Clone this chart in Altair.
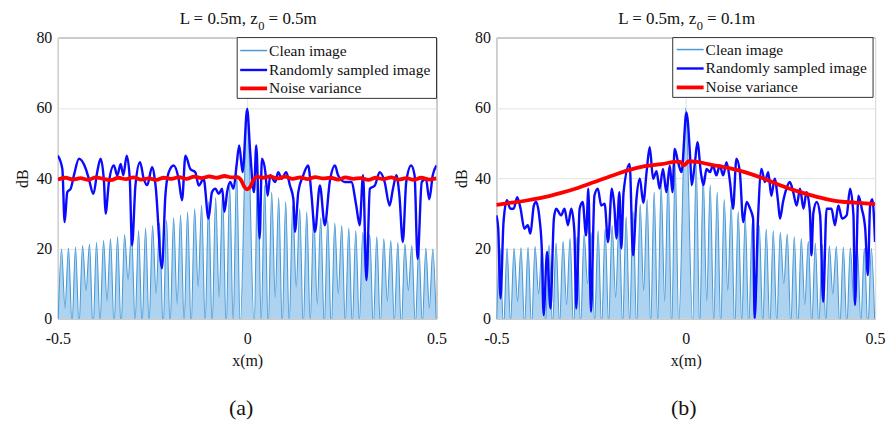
import altair as alt
import pandas as pd

SERIES = ["Clean image", "Randomly sampled image", "Noise variance"]
COLOURS = ["#4a9ad6", "#0a0aff", "#ff0000"]
WIDTHS = [1.1, 2.4, 3.8]
CLEAN_FILL = "#aed3f1"

# Clean image: sidelobe spacing, main-lobe peak, sidelobe peaks (centre outward)
# and the depth of each null (centre outward), both halves mirror each other.
LOBE_STEP = 0.0185
MAIN_PEAK = 60.0
PEAKS_A = [42.0, 38.0, 36.0, 34.5, 33.3, 32.3, 31.3, 30.4, 29.5, 28.7, 28.0, 27.2, 26.5,
           25.8, 25.1, 24.5, 23.9, 23.3, 22.7, 22.2, 21.7, 21.2, 20.8, 20.4, 20.1, 19.8]
PEAKS_B = [44.0, 40.5, 38.0, 36.0, 34.0, 32.5, 30.5, 29.0, 27.5, 26.5, 25.5, 25.0, 24.5,
           24.0, 23.3, 22.8, 22.0, 21.5, 21.0, 20.7, 20.5, 20.3, 20.2, 20.0, 20.0, 20.0]
NULLS_A = [-2.0, -1.0, -3.0, 6.0, -2.0, -1.5, 9.0, -2.5, -1.0, 4.0, -2.0, -3.0, 7.0, -1.5,
           -2.0, -1.0, 11.0, -2.5, -2.0, 5.0, -1.0, -3.0, 8.0, -2.0, -1.5, 3.0, -2.0]
NULLS_B = [-1.5, -2.5, 5.0, -1.0, -2.0, 8.0, -3.0, -1.0, -2.0, 6.0, -1.5, -2.5, -1.0, 10.0,
           -2.0, -3.0, 4.0, -1.5, -2.0, -1.0, 7.0, -2.5, -2.0, 5.0, -1.0, -3.0, -2.0]

# Randomly sampled image, (x [m], dB)
RAND_A = [(-0.500, 46.4), (-0.488, 42.6), (-0.482, 27.5), (-0.475, 36.0), (-0.466, 37.0),
          (-0.457, 41.0), (-0.444, 45.5), (-0.426, 42.6), (-0.418, 39.8), (-0.406, 35.5),
          (-0.396, 41.7), (-0.387, 45.5), (-0.378, 38.9), (-0.374, 29.9), (-0.365, 38.9),
          (-0.352, 43.6), (-0.343, 40.8), (-0.334, 44.0), (-0.327, 40.8), (-0.318, 46.4),
          (-0.310, 39.8), (-0.304, 20.9), (-0.295, 37.9), (-0.283, 44.5), (-0.273, 39.8),
          (-0.264, 38.0), (-0.251, 43.1), (-0.242, 38.0), (-0.225, 14.3), (-0.216, 35.0),
          (-0.207, 41.7), (-0.194, 43.6), (-0.181, 39.8), (-0.172, 33.7), (-0.163, 46.4),
          (-0.150, 42.6), (-0.137, 41.7), (-0.128, 37.9), (-0.115, 39.8), (-0.102, 28.5),
          (-0.093, 36.0), (-0.084, 37.0), (-0.075, 35.5), (-0.066, 37.0), (-0.060, 30.4),
          (-0.053, 36.0), (-0.045, 38.9), (-0.036, 37.0), (-0.028, 43.6), (-0.021, 49.3),
          (-0.012, 41.7), (0.000, 59.7), (0.008, 47.4), (0.018, 36.0), (0.024, 49.3),
          (0.033, 22.8), (0.039, 45.5), (0.048, 41.7), (0.054, 35.0), (0.061, 40.8),
          (0.074, 38.9), (0.082, 41.7), (0.091, 39.8), (0.103, 41.7), (0.113, 37.9),
          (0.122, 34.0), (0.126, 24.7), (0.135, 36.0), (0.148, 40.8), (0.161, 43.6),
          (0.170, 35.0), (0.179, 24.7), (0.192, 37.9), (0.205, 26.6), (0.218, 38.9),
          (0.232, 43.6), (0.240, 40.8), (0.258, 38.9), (0.275, 38.9), (0.288, 32.2),
          (0.297, 26.6), (0.306, 40.8), (0.315, 11.0), (0.324, 37.0), (0.337, 37.9),
          (0.350, 41.7), (0.363, 38.9), (0.376, 32.2), (0.385, 37.0), (0.394, 40.8),
          (0.402, 35.0), (0.411, 21.8), (0.420, 38.9), (0.433, 43.6), (0.442, 40.8),
          (0.450, 17.0), (0.461, 38.9), (0.472, 39.8), (0.481, 34.0), (0.490, 40.8),
          (0.500, 43.6)]

RAND_B = [(-0.500, 29.4), (-0.495, 25.6), (-0.489, 5.8), (-0.481, 27.5), (-0.472, 33.7),
          (-0.463, 31.3), (-0.454, 31.3), (-0.445, 34.6), (-0.436, 31.3), (-0.426, 25.6),
          (-0.417, 26.6), (-0.410, 24.2), (-0.401, 32.2), (-0.395, 33.2), (-0.386, 28.5),
          (-0.380, 20.0), (-0.375, 1.0), (-0.366, 19.0), (-0.357, 2.9), (-0.348, 28.5),
          (-0.342, 31.3), (-0.329, 29.4), (-0.320, 31.3), (-0.311, 26.6), (-0.302, 31.3),
          (-0.294, 25.0), (-0.289, 2.9), (-0.280, 31.3), (-0.272, 33.2), (-0.263, 23.7),
          (-0.257, 37.0), (-0.250, 2.0), (-0.241, 35.0), (-0.232, 37.0), (-0.223, 32.2),
          (-0.214, 32.7), (-0.205, 21.8), (-0.195, 37.0), (-0.188, 31.3), (-0.183, 22.8),
          (-0.175, 36.0), (-0.170, 20.0), (-0.164, 36.0), (-0.148, 44.0), (-0.139, 18.0),
          (-0.130, 34.0), (-0.121, 39.8), (-0.112, 33.0), (-0.103, 42.0), (-0.095, 48.8),
          (-0.086, 39.8), (-0.077, 42.0), (-0.069, 37.0), (-0.060, 42.6), (-0.051, 36.0),
          (-0.042, 43.6), (-0.035, 36.0), (-0.029, 48.3), (-0.020, 44.5), (-0.011, 41.7),
          (0.002, 58.7), (0.012, 45.5), (0.016, 38.0), (0.024, 44.0), (0.031, 50.2),
          (0.040, 41.7), (0.047, 38.0), (0.055, 42.6), (0.064, 41.7), (0.072, 43.6),
          (0.081, 40.8), (0.090, 43.6), (0.099, 40.8), (0.108, 44.5), (0.117, 38.9),
          (0.125, 31.3), (0.134, 45.5), (0.143, 41.7), (0.152, 27.5), (0.161, 33.2),
          (0.170, 31.3), (0.178, 28.5), (0.182, 0.0), (0.191, 28.5), (0.200, 42.6),
          (0.209, 38.9), (0.218, 41.7), (0.226, 35.0), (0.235, 39.8), (0.244, 33.2),
          (0.249, 28.5), (0.257, 33.2), (0.266, 37.0), (0.275, 38.9), (0.284, 36.0),
          (0.293, 32.2), (0.302, 37.0), (0.311, 31.3), (0.319, 36.0), (0.328, 30.4),
          (0.332, 18.0), (0.337, 30.0), (0.346, 33.2), (0.355, 29.4), (0.363, 4.8),
          (0.372, 31.3), (0.385, 31.3), (0.394, 26.6), (0.403, 32.2), (0.413, 28.5),
          (0.425, 29.4), (0.434, 37.0), (0.443, 29.4), (0.447, 3.9), (0.456, 35.0),
          (0.465, 31.3), (0.474, 25.6), (0.481, 12.4), (0.487, 32.2), (0.493, 34.0),
          (0.500, 21.8)]

# Noise variance, (x [m], dB)
NOISE_A = [(-0.50, 39.6), (-0.48, 40.1), (-0.46, 39.6), (-0.44, 40.0), (-0.42, 39.5),
           (-0.40, 40.2), (-0.38, 39.8), (-0.36, 39.4), (-0.34, 40.1), (-0.32, 39.7),
           (-0.30, 40.2), (-0.28, 39.6), (-0.26, 39.9), (-0.24, 39.5), (-0.22, 40.1),
           (-0.20, 39.8), (-0.18, 40.3), (-0.16, 39.8), (-0.14, 40.4), (-0.12, 40.0),
           (-0.10, 40.5), (-0.08, 40.1), (-0.06, 40.6), (-0.04, 40.2), (-0.026, 40.3),
           (-0.016, 39.4), (-0.008, 37.6), (0.000, 36.8), (0.008, 37.5), (0.016, 39.3),
           (0.026, 40.4), (0.04, 40.1), (0.06, 40.5), (0.08, 39.9), (0.10, 40.4),
           (0.12, 39.8), (0.14, 40.2), (0.16, 39.7), (0.18, 40.3), (0.20, 39.9),
           (0.22, 40.1), (0.24, 39.6), (0.26, 40.2), (0.28, 39.8), (0.30, 40.0),
           (0.32, 39.5), (0.34, 40.1), (0.36, 39.7), (0.38, 40.2), (0.40, 39.6),
           (0.42, 40.0), (0.44, 39.5), (0.46, 40.1), (0.48, 39.6), (0.50, 39.9)]
NOISE_B = [(-0.500, 32.4), (-0.460, 33.0), (-0.417, 33.7), (-0.373, 34.6), (-0.329, 35.8),
           (-0.285, 37.2), (-0.241, 38.9), (-0.197, 40.6), (-0.153, 42.2), (-0.108, 43.4),
           (-0.064, 44.0), (-0.020, 44.7), (-0.012, 44.5), (-0.006, 43.6), (0.000, 44.0),
           (0.008, 44.8), (0.030, 44.6), (0.068, 43.8), (0.112, 42.9), (0.156, 41.7),
           (0.200, 40.1), (0.244, 38.2), (0.288, 36.5), (0.332, 35.1), (0.377, 33.9),
           (0.420, 33.2), (0.465, 32.9), (0.500, 32.6)]

X_TICKS = [-0.5, 0, 0.5]
Y_TICKS = [0, 20, 40, 60, 80]
TITLE_HEAD = "L = 0.5m, z"
TITLE_SUB = "0"
TAILS = ["= 0.5m", "= 0.1m"]
TAGS = ["(a)", "(b)"]

W, H = 380, 282
SERIF = "Times New Roman, Liberation Serif, DejaVu Serif, serif"

# Legend box placement inside each plot (pixels from the plot's top-left corner)
LEGEND_BOX = [(180, 0, 380, 61), (177, 0, 378, 60)]
LEGEND_ROWS = [(13, 32.5, 51), (12, 31, 50)]
LEGEND_SWATCH = [(183, 210), (181, 208)]


def clean_frame(peaks, nulls):
    rows = [(0.0, MAIN_PEAK)]
    for side in (-1, 1):
        for k, depth in enumerate(nulls, start=1):
            rows.append((side * k * LOBE_STEP, depth))
            if k <= len(peaks):
                rows.append((side * (k + 0.5) * LOBE_STEP, peaks[k - 1]))
    return pd.DataFrame(rows, columns=["x", "y"]).sort_values("x")


def pair_frame(pairs):
    return pd.DataFrame(pairs, columns=["x", "y"])


x_enc = alt.X(
    "x:Q", scale=alt.Scale(domain=[-0.5, 0.5], nice=False, zero=False),
    axis=alt.Axis(values=X_TICKS, title="x(m)", labelFont=SERIF, titleFont=SERIF,
                  labelFlush=False,
                  labelExpr="replace(format(datum.value, '.1~f'), '\u2212', '-')"),
)
y_enc = alt.Y(
    "y:Q", scale=alt.Scale(domain=[0, 80], nice=False),
    axis=alt.Axis(values=Y_TICKS, title="dB", labelFont=SERIF, titleFont=SERIF),
)


def text_at(text, x, y, size, align, baseline="alphabetic"):
    return alt.Chart(pd.DataFrame({"t": [text]})).mark_text(
        font=SERIF, fontSize=size, align=align, baseline=baseline, color="#111111"
    ).encode(text="t:N", x=alt.value(x), y=alt.value(y))


def legend_layers(box, rows, swatch):
    x0, y0, x1, y1 = box
    one = pd.DataFrame({"k": [0]})
    layers = [alt.Chart(one).mark_rect(fill="white", stroke="#333333", strokeWidth=1).encode(
        x=alt.value(x0), x2=alt.value(x1), y=alt.value(y0), y2=alt.value(y1))]
    for name, colour, width, ry in zip(SERIES, COLOURS, WIDTHS, rows):
        layers.append(alt.Chart(one).mark_rule(color=colour, strokeWidth=max(width, 1.5)).encode(
            x=alt.value(swatch[0]), x2=alt.value(swatch[1]), y=alt.value(ry)))
        layers.append(text_at(name, swatch[1] + 2, ry, 15.5, "left", "middle"))
    return layers


def panel(idx, peaks, nulls, rand, noise, tag_x):
    clean_df = clean_frame(peaks, nulls)
    clean_fill = alt.Chart(clean_df).mark_area(
        clip=True, interpolate="monotone", color=CLEAN_FILL).encode(x=x_enc, y=y_enc)
    clean = alt.Chart(clean_df).mark_line(
        clip=True, interpolate="monotone", color=COLOURS[0], strokeWidth=WIDTHS[0]
    ).encode(x=x_enc, y=y_enc)
    sampled = alt.Chart(pair_frame(rand)).mark_line(
        clip=True, interpolate="monotone", color=COLOURS[1], strokeWidth=WIDTHS[1]
    ).encode(x=x_enc, y=y_enc)
    var = alt.Chart(pair_frame(noise)).mark_line(
        clip=True, interpolate="monotone", color=COLOURS[2], strokeWidth=WIDTHS[2]
    ).encode(x=x_enc, y=y_enc)

    head = text_at(TITLE_HEAD, W / 2 + 10.6, -14, 17, "right")
    sub = text_at(TITLE_SUB, W / 2 + 11.2, -8, 12.5, "left")
    rest = text_at(TAILS[idx], W / 2 + 21.5, -14, 17, "left")
    caption = text_at(TAGS[idx], tag_x, 379, 22, "center")
    layers = [clean_fill, clean, sampled, var]
    layers += legend_layers(LEGEND_BOX[idx], LEGEND_ROWS[idx], LEGEND_SWATCH[idx])
    layers += [head, sub, rest, caption]
    return alt.layer(*layers).properties(width=W, height=H)


left = panel(0, PEAKS_A, NULLS_A, RAND_A, NOISE_A, 184)
right = panel(1, PEAKS_B, NULLS_B, RAND_B, NOISE_B, 188)

chart = alt.hconcat(left, right, spacing=60, bounds="flush").properties(
    padding={"left": 14, "top": 8, "right": 4, "bottom": 5}
).configure(
    font=SERIF
).configure_view(
    stroke="#6a6a6a", strokeWidth=1
).configure_axis(
    labelFont=SERIF, titleFont=SERIF, labelFontSize=16, titleFontSize=16,
    labelColor="#111111", titleColor="#111111", titleFontWeight="normal",
    grid=True, gridColor="#e3e3e3", gridWidth=1, domain=False, ticks=False,
).configure_axisX(
    labelPadding=12, titlePadding=6,
).configure_axisY(
    labelPadding=6, titlePadding=5,
)

chart.save("out.html", embed_options={"renderer": "svg", "actions": False})
